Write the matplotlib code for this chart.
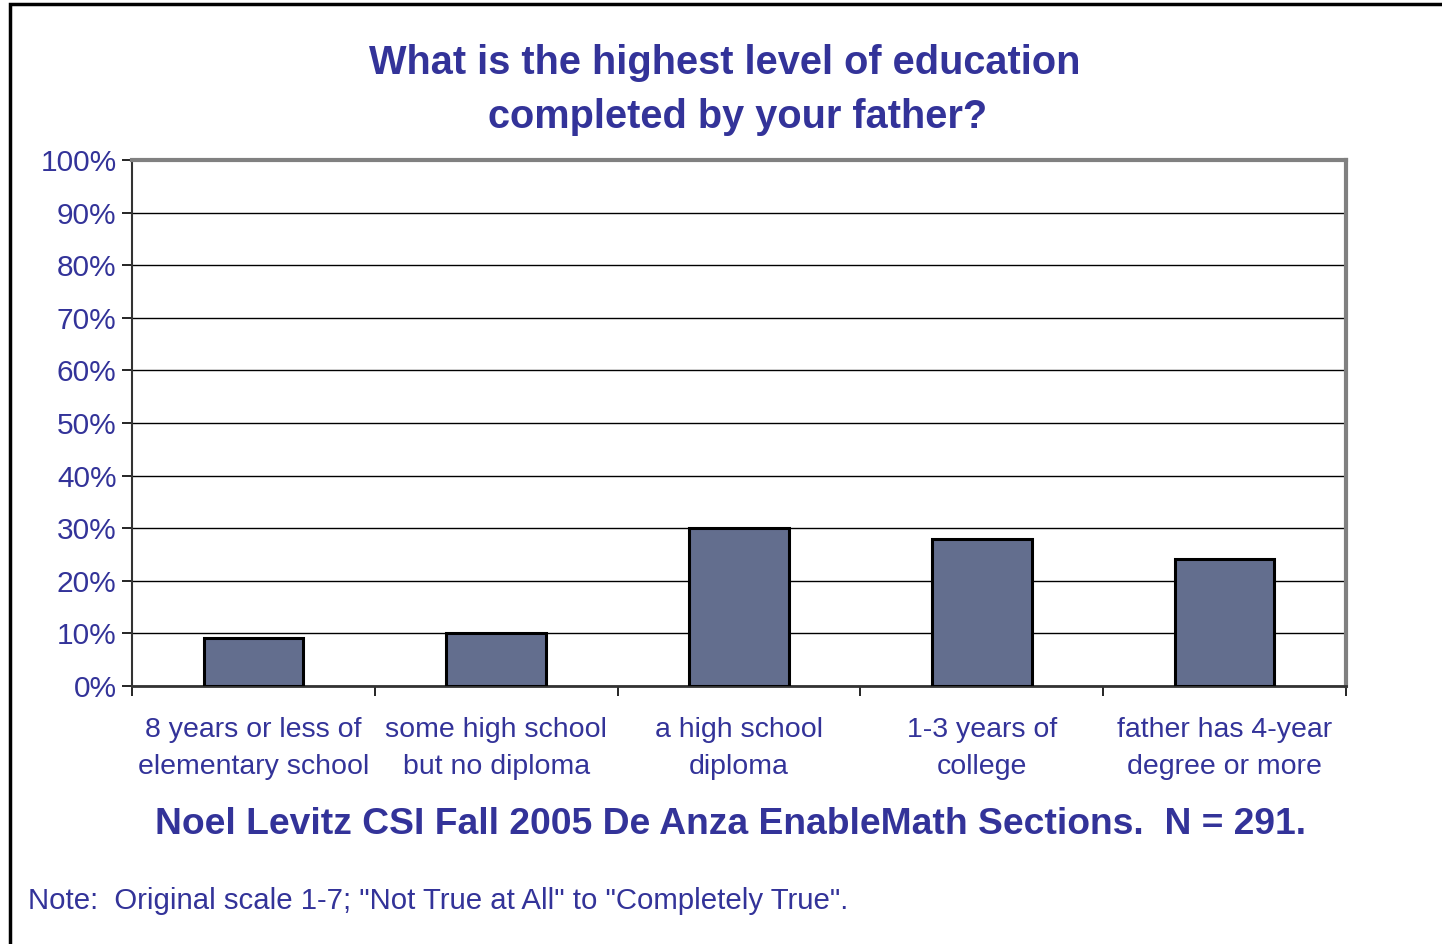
import matplotlib.pyplot as plt
from matplotlib.patches import Rectangle
import numpy as np

categories = ["8 years or less of\nelementary school", "some high school\nbut no diploma",
              "a high school\ndiploma", "1-3 years of\ncollege",
              "father has 4-year\ndegree or more"]
values = [9.1, 10.0, 30.0, 27.9, 24.1]
yticks = [0, 10, 20, 30, 40, 50, 60, 70, 80, 90, 100]

TXT = "#333399"
BAR = "#636e8e"

plt.rcParams['font.family'] = ['Liberation Sans', 'DejaVu Sans']

fig = plt.figure(figsize=(14.42, 9.44), dpi=100)
W, H = 1442, 944
# plot area in pixels: left 132, right 1346, top 160, bottom 686
ax = fig.add_axes([132 / W, 1 - 686 / H, (1346 - 132) / W, (686 - 160) / H])

x = np.arange(len(categories))
ax.bar(x, values, width=0.41, color=BAR, edgecolor="black", linewidth=2.2, zorder=3)
ax.set_xlim(-0.5, len(categories) - 0.5)
ax.set_ylim(0, 100)

ax.set_yticks(yticks)
ax.set_yticklabels([f"{v}%" for v in yticks], color=TXT, fontsize=21.5)
ax.yaxis.grid(True, color="black", linewidth=1.0, zorder=0)
ax.tick_params(axis='y', length=7, width=1.2, pad=4, direction='out')

ax.set_xticks(np.arange(-0.5, len(categories)), minor=False)
ax.set_xticklabels([])
ax.set_xticks(x, minor=True)
ax.set_xticklabels(categories, minor=True, color=TXT, fontsize=20.5, linespacing=1.55)
ax.tick_params(axis='x', which='major', length=7, width=1.2, direction='out')
ax.tick_params(axis='x', which='minor', length=0, pad=22)

for s in ['top', 'right']:
    ax.spines[s].set_color("#808080")
    ax.spines[s].set_linewidth(3)
ax.spines['left'].set_color("#333333")
ax.spines['left'].set_linewidth(1.5)
ax.spines['bottom'].set_color("#333333")
ax.spines['bottom'].set_linewidth(2)

fig.text(725 / W, 1 - 63 / H, "What is the highest level of education",
         ha='center', va='center', color=TXT, fontsize=28.6, fontweight='bold')
fig.text(738 / W, 1 - 117 / H, "completed by your father?",
         ha='center', va='center', color=TXT, fontsize=28.6, fontweight='bold')
fig.text(731 / W, 1 - 824 / H, "Noel Levitz CSI Fall 2005 De Anza EnableMath Sections.  N = 291.",
         ha='center', va='center', color=TXT, fontsize=26.8, fontweight='bold')
fig.text(28 / W, 1 - 901 / H, "Note:  Original scale 1-7; \"Not True at All\" to \"Completely True\".",
         ha='left', va='center', color=TXT, fontsize=21.2)

# outer frame running off the right and bottom edges
fig.patches.append(Rectangle((10 / W, -0.1), 1.2, 1 - 4 / H + 0.1, transform=fig.transFigure,
                             fill=False, edgecolor="black", linewidth=2.5))

fig.savefig("out.png", dpi=100)
